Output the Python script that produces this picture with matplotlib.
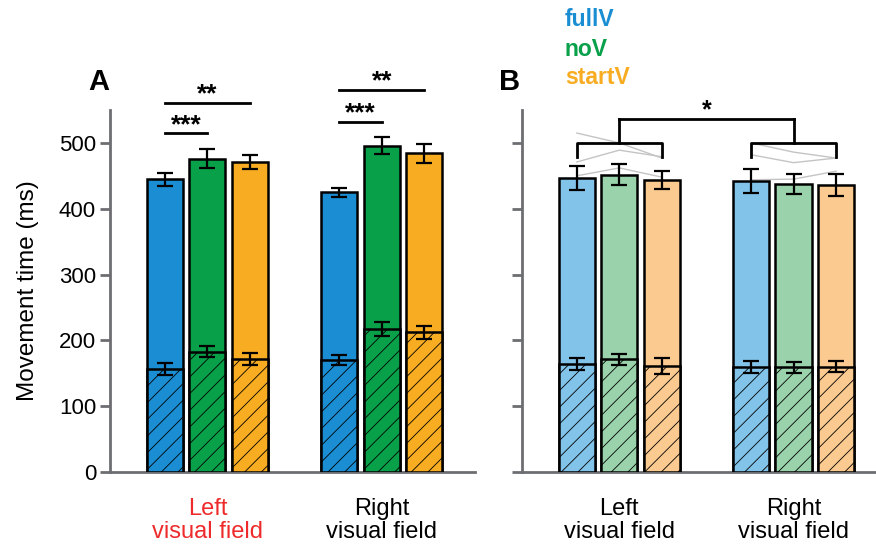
import matplotlib
matplotlib.use("Agg")
import matplotlib.pyplot as plt
import numpy as np

plt.rcParams['font.family'] = ['Liberation Sans', 'DejaVu Sans']
plt.rcParams['hatch.linewidth'] = 0.6

# data
conditions = ["fullV", "noV", "startV"]
fields = ["Left\nvisual field", "Right\nvisual field"]

# panel A  (rows: left / right visual field, cols: fullV, noV, startV)
a_total = [[445, 476, 471], [425, 496, 484]]
a_total_err = [[10, 14, 10], [7, 13, 14]]
a_lower = [[157, 183, 172], [170, 217, 212]]
a_lower_err = [[9, 9, 9], [8, 11, 10]]

# panel B
b_total = [[447, 452, 444], [442, 438, 436]]
b_total_err = [[18, 16, 14], [18, 15, 17]]
b_lower = [[164, 171, 161], [160, 159, 160]]
b_lower_err = [[9, 9, 12], [9, 8, 8]]

# grey profile lines in panel B
b_lines_left = [[515, 500, 477], [471, 489, 479], [450, 462, 448]]
b_lines_right = [[500, 486, 477], [482, 470, 477], [444, 445, 457]]

colors_a = ['#1B8ED3', '#09A04A', '#F7AC22']
colors_b = ['#82C3EA', '#9AD3AB', '#FBCA90']

group_pos = [0, 4.1]
offsets = [-1, 0, 1]
width = 0.85
spine_col = '#6d6e71'

fig = plt.figure(figsize=(8.76, 5.49), dpi=100)
axA = fig.add_axes([110/876, 77/549, 365/876, 362/549])
axB = fig.add_axes([522/876, 77/549, 354/876, 362/549])


def draw_panel(ax, total, total_err, lower, lower_err, colors):
    for g in range(2):
        for i in range(3):
            x = group_pos[g] + offsets[i]
            ax.bar(x, total[g][i], width, color=colors[i], edgecolor='black', lw=1.8, zorder=3)
            ax.bar(x, lower[g][i], width, color=colors[i], edgecolor='black', lw=1.8,
                   hatch='//', zorder=4)
            ax.errorbar(x, total[g][i], yerr=total_err[g][i], color='black', lw=1.6,
                        capsize=5.5, capthick=1.6, zorder=6)
            ax.errorbar(x, lower[g][i], yerr=lower_err[g][i], color='black', lw=1.6,
                        capsize=5.5, capthick=1.6, zorder=6)
    ax.set_ylim(0, 550)
    ax.set_yticks([0, 100, 200, 300, 400, 500])
    for s in ['top', 'right']:
        ax.spines[s].set_visible(False)
    for s in ['left', 'bottom']:
        ax.spines[s].set_color(spine_col)
        ax.spines[s].set_linewidth(2)
    ax.tick_params(axis='y', direction='out', length=7, width=2, color=spine_col,
                   labelsize=16, pad=3)
    ax.set_xticks(group_pos)
    ax.set_xticklabels(fields, fontsize=17, linespacing=1.05)
    ax.tick_params(axis='x', length=0, pad=19)


draw_panel(axA, a_total, a_total_err, a_lower, a_lower_err, colors_a)
draw_panel(axB, b_total, b_total_err, b_lower, b_lower_err, colors_b)

axA.set_xlim(-2.29, 6.29)
axB.set_xlim(-2.29, 6.04)
axA.get_xticklabels()[0].set_color('#EE2A2A')
axB.set_yticklabels([])
axA.set_ylabel("Movement time (ms)", fontsize=17.5, labelpad=14)


# significance marks panel A
def sig_line(ax, x0, x1, y, txt):
    ax.plot([x0, x1], [y, y], color='black', lw=2, clip_on=False)
    ax.text((x0 + x1) / 2, y - 6, txt, ha='center', va='bottom', fontsize=19,
            fontweight='bold', clip_on=False)


for g, (y3, y2) in enumerate([(515, 561), (532, 581)]):
    c = group_pos[g]
    sig_line(axA, c - 1, c, y3, "***")
    sig_line(axA, c - 1, c + 1, y2, "**")

# grey lines panel B
for g, lines in enumerate([b_lines_left, b_lines_right]):
    xs = [group_pos[g] + o for o in offsets]
    for ln in lines:
        axB.plot(xs, ln, color='#c4c4c4', lw=1, zorder=2, clip_on=False)

# brackets panel B
for g in range(2):
    c = group_pos[g]
    axB.plot([c - 1, c - 1, c + 1, c + 1], [479, 500, 500, 479], color='black', lw=2,
             clip_on=False, zorder=7)
    axB.plot([c, c], [500, 536], color='black', lw=2, clip_on=False, zorder=7)
axB.plot(group_pos, [536, 536], color='black', lw=2, clip_on=False, zorder=7)
axB.text(np.mean(group_pos), 532, "*", ha='center', va='bottom', fontsize=18,
         fontweight='bold', clip_on=False)

# panel letters and condition legend
fig.text(99/876, 1 - 82/549, "A", fontsize=21, fontweight='bold', ha='center', va='center')
fig.text(510/876, 1 - 82/549, "B", fontsize=21, fontweight='bold', ha='center', va='center')
for name, col, y in zip(conditions, colors_a, [20, 49, 77]):
    fig.text(565/876, 1 - y/549, name, color=col, fontsize=16.5, fontweight='bold',
             ha='left', va='center')

fig.savefig("out.png", dpi=100)
